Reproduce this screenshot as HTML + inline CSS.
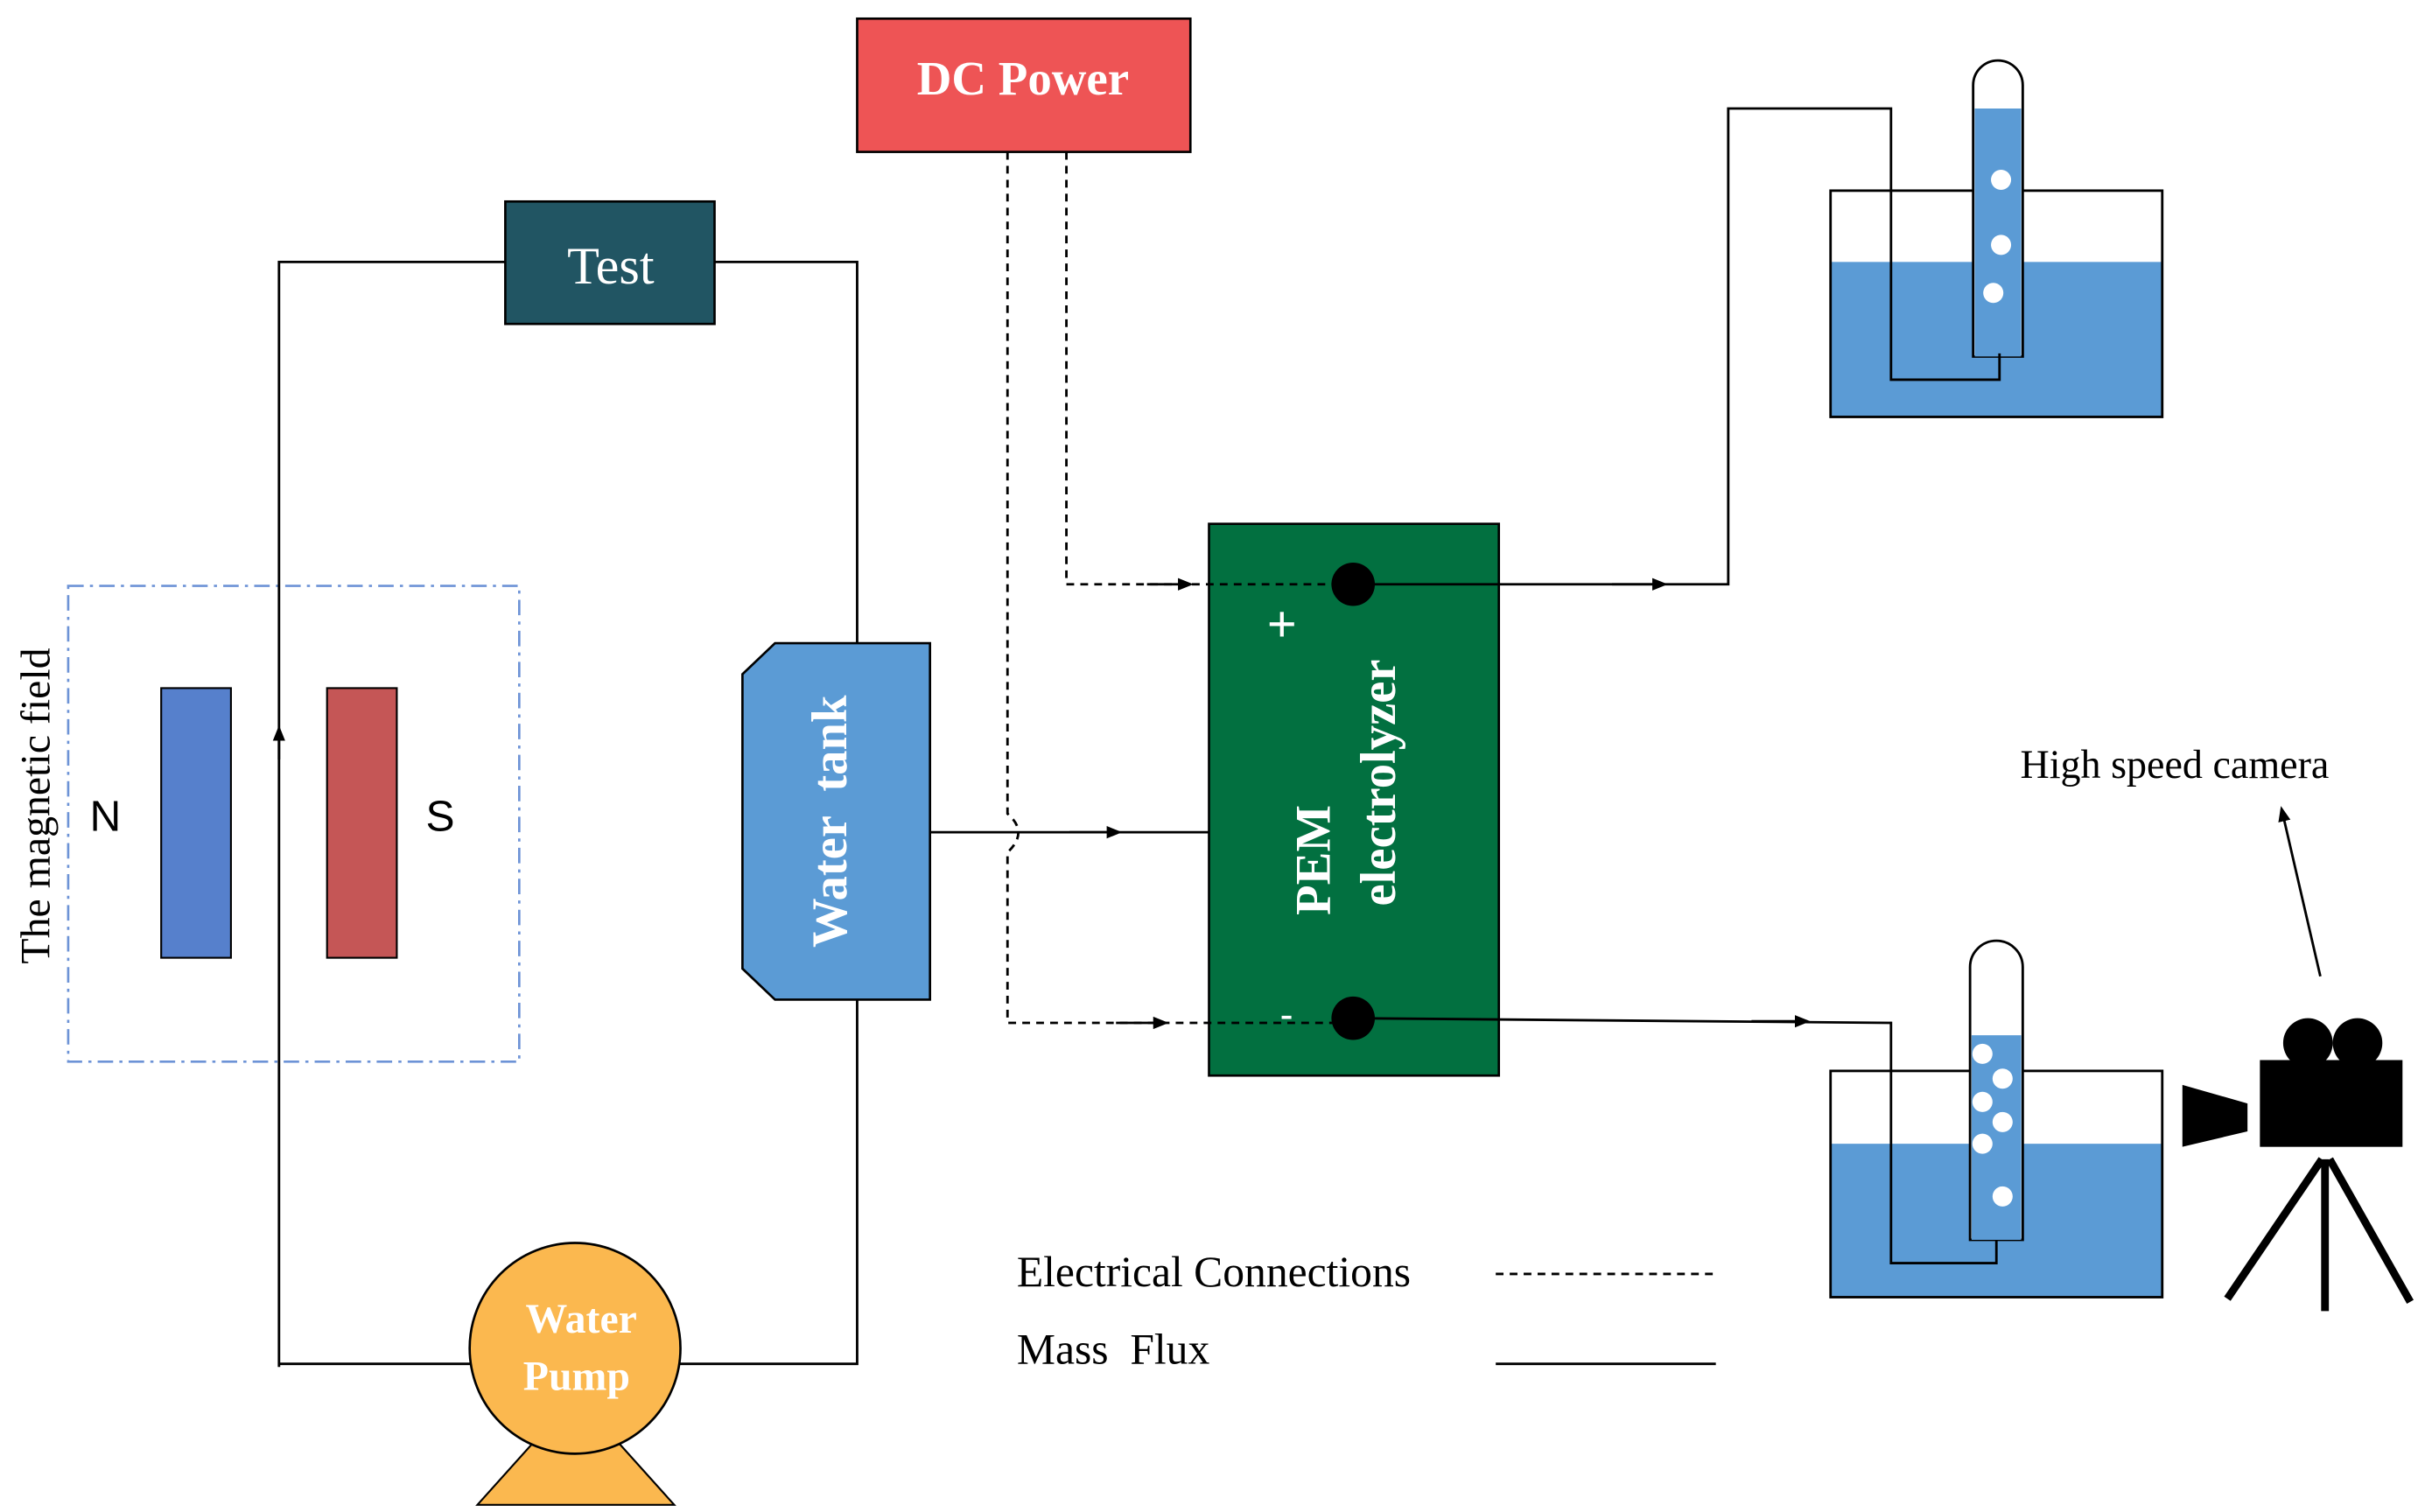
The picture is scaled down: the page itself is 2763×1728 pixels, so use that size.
<!DOCTYPE html>
<html><head><style>html,body{margin:0;padding:0;background:#fff}svg{display:block}</style></head><body>
<svg width="2763" height="1728" viewBox="0 0 1560 975.6" xmlns="http://www.w3.org/2000/svg" font-family="Liberation Serif, serif">
<defs><marker id="a" markerWidth="10" markerHeight="10" refX="8" refY="5" orient="auto" markerUnits="userSpaceOnUse"><path d="M0,1 L10,5 L0,9 z" fill="#000"/></marker></defs>
<!-- magnetic field -->
<rect x="44" y="378" width="291" height="307" fill="none" stroke="#6d93d6" stroke-width="1.5" stroke-dasharray="10,4,2,4"/>
<rect x="104" y="444" width="45" height="174" fill="#5680cc" stroke="#000" stroke-width="1.2"/>
<rect x="211" y="444" width="45" height="174" fill="#c55656" stroke="#000" stroke-width="1.2"/>
<text x="68" y="536" font-family="Liberation Sans, sans-serif" font-size="28" text-anchor="middle">N</text>
<text x="284" y="536" font-family="Liberation Sans, sans-serif" font-size="28" text-anchor="middle">S</text>
<text transform="translate(32,520) rotate(-90)" font-size="27" text-anchor="middle">The magnetic field</text>
<!-- DC / Test -->
<rect x="553" y="12" width="215" height="86" fill="#ee5455" stroke="#000" stroke-width="1.5"/>
<text x="660" y="61" font-size="31" font-weight="bold" fill="#fff" text-anchor="middle">DC Power</text>
<rect x="326" y="130" width="135" height="79" fill="#215563" stroke="#000" stroke-width="1.5"/>
<text x="394" y="183" font-size="34" fill="#fff" text-anchor="middle">Test</text>
<!-- tank -->
<path d="M500,415 L600,415 L600,645 L500,645 L479,625 L479,435 Z" fill="#5b9bd5" stroke="#000" stroke-width="1.5"/>
<text transform="translate(546,530) rotate(-90)" font-size="32" font-weight="bold" fill="#fff" text-anchor="middle" xml:space="preserve">Water  tank</text>
<!-- PEM -->
<rect x="780" y="338" width="187" height="356" fill="#027040" stroke="#000" stroke-width="1.5"/>
<text x="827" y="414" font-size="34" font-weight="bold" fill="#fff" text-anchor="middle">+</text>
<text x="830" y="662" font-size="24" font-weight="bold" fill="#fff" text-anchor="middle">-</text>
<text transform="translate(858,555) rotate(-90)" font-size="32" font-weight="bold" fill="#fff" text-anchor="middle">PEM</text>
<text transform="translate(900,505) rotate(-90)" font-size="32" font-weight="bold" fill="#fff" text-anchor="middle">electrolyzer</text>
<!-- top beaker -->
<rect x="1181" y="169" width="214" height="100" fill="#5b9bd5"/>
<rect x="1181" y="123" width="214" height="146" fill="none" stroke="#000" stroke-width="1.6"/>
<path d="M1273,230 L1273,55 A16,16 0 0 1 1305,55 L1305,230 Z" fill="#fff" stroke="#000" stroke-width="1.6"/>
<rect x="1274" y="70" width="30" height="160" fill="#5b9bd5"/>
<circle cx="1291" cy="116" r="6.5" fill="#fff"/><circle cx="1291" cy="158" r="6.5" fill="#fff"/><circle cx="1286" cy="189" r="6.5" fill="#fff"/>
<!-- bottom beaker -->
<rect x="1181" y="738" width="214" height="99" fill="#5b9bd5"/>
<rect x="1181" y="691" width="214" height="146" fill="none" stroke="#000" stroke-width="1.6"/>
<path d="M1271,800 L1271,624 A17,17 0 0 1 1305,624 L1305,800 Z" fill="#fff" stroke="#000" stroke-width="1.6"/>
<rect x="1272" y="668" width="32" height="132" fill="#5b9bd5"/>
<g fill="#fff"><circle cx="1279" cy="680" r="6.5"/><circle cx="1292" cy="696" r="6.5"/><circle cx="1279" cy="711" r="6.5"/><circle cx="1292" cy="724" r="6.5"/><circle cx="1279" cy="738" r="6.5"/><circle cx="1292" cy="772" r="6.5"/></g>
<!-- connectors -->
<g stroke="#000" stroke-width="1.6" fill="none">
<path d="M180,882 L180,169 L326,169 M461,169 L553,169 L553,415 M553,645 L553,880 L438,880 M305,880 L180,880"/>
<path d="M180,490 L180,470" marker-end="url(#a)"/>
<path d="M600,537 L780,537"/>
<path d="M690,537 L722,537" marker-end="url(#a)"/>
<path stroke-dasharray="5,4" d="M688,98 L688,377 L860,377"/>
<path stroke-dasharray="5,4" d="M650,98 L650,525 Q664,537 650,550 L650,660 L860,660"/>
<path d="M740,377 L768,377" marker-end="url(#a)"/>
<path d="M720,660 L752,660" marker-end="url(#a)"/>
<path d="M873,377 L1115,377 L1115,70 L1220,70 L1220,245 L1290,245 L1290,228"/>
<path d="M1040,377 L1074,377" marker-end="url(#a)"/>
<path d="M873,657 L1220,660 L1220,815 L1288,815 L1288,800"/>
<path d="M1130,659 L1166,659" marker-end="url(#a)"/>
<path d="M1497,630 L1472,522" marker-end="url(#a)"/>
<path stroke-dasharray="5,4" d="M965,822 L1107,822"/>
<path d="M965,880 L1107,880"/>
</g>
<circle cx="873" cy="377" r="14" fill="#000"/>
<circle cx="873" cy="657" r="14" fill="#000"/>
<!-- camera -->
<path d="M1408,700 L1450,712 L1450,730 L1408,740 Z" fill="#000"/>
<rect x="1458" y="684" width="92" height="56" fill="#000"/>
<circle cx="1489" cy="673" r="16" fill="#000"/><circle cx="1521" cy="673" r="16" fill="#000"/>
<path d="M1498,748 L1437,838 M1500,748 L1500,846 M1503,748 L1555,840" stroke="#000" stroke-width="5"/>
<text x="1403" y="502" font-size="26" text-anchor="middle">High speed camera</text>
<!-- legend -->
<text x="656" y="830" font-size="28">Electrical Connections</text>
<text x="656" y="880" font-size="28" xml:space="preserve">Mass  Flux</text>
<!-- pump -->
<path d="M308,971 L435,971 L400,932 L343,932 Z" fill="#fbb84f" stroke="#000" stroke-width="1.2"/>
<circle cx="371" cy="870" r="68" fill="#fbb84f" stroke="#000" stroke-width="1.5"/>
<text x="375" y="860" font-size="27" font-weight="bold" fill="#fff" text-anchor="middle">Water</text>
<text x="372" y="897" font-size="27" font-weight="bold" fill="#fff" text-anchor="middle">Pump</text>
</svg>
</body></html>
